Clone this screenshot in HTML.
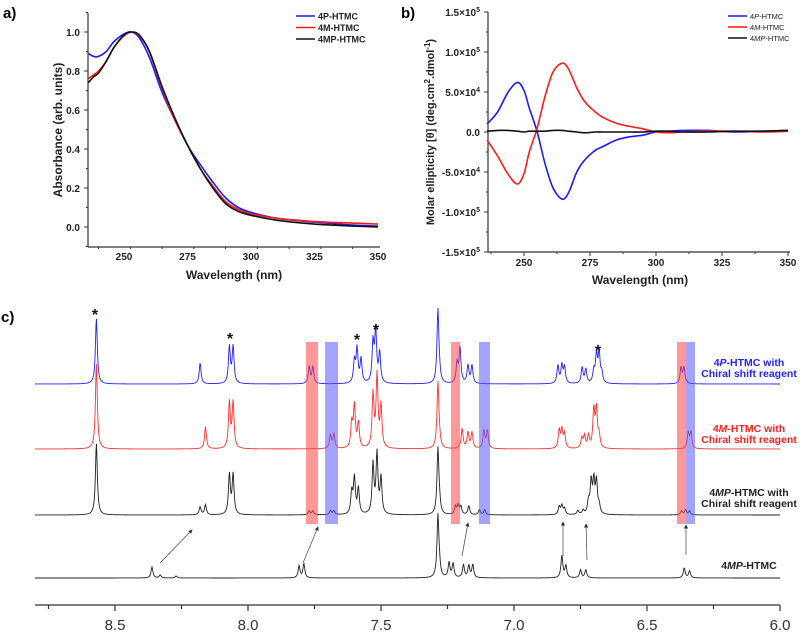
<!DOCTYPE html>
<html><head><meta charset="utf-8"><style>
html,body{margin:0;padding:0;background:#fff;}
svg{display:block;font-family:"Liberation Sans",Arial,sans-serif;}
</style></head><body>
<svg id="fig" width="800" height="633" viewBox="0 0 800 633" xmlns="http://www.w3.org/2000/svg">
<text x="3" y="18" font-size="15" font-weight="bold">a)</text>
<text x="401" y="18" font-size="15" font-weight="bold">b)</text>
<text x="1" y="322" font-size="15" font-weight="bold">c)</text>
<g id="ga"></g>
<g id="gb"></g>
<g id="gc"></g>
</svg>
<script>
// ---------- Panel a data ----------
const uvWl = [236,238,240,243,246,250,253,256,260,265,270,275,280,285,290,295,300,310,325,340,350];
const uvP  = [0.89,0.875,0.875,0.90,0.95,0.99,1.0,0.97,0.87,0.69,0.55,0.42,0.32,0.23,0.15,0.10,0.075,0.045,0.025,0.01,0.005];
const uvM  = [0.76,0.78,0.80,0.85,0.92,0.98,1.0,0.98,0.90,0.71,0.55,0.42,0.30,0.21,0.13,0.09,0.068,0.045,0.028,0.02,0.015];
const uvMP = [0.74,0.77,0.79,0.85,0.92,0.985,1.0,0.985,0.90,0.72,0.56,0.42,0.30,0.20,0.12,0.08,0.06,0.035,0.015,0.005,0.0];
const uvXTicks = [250,275,300,325,350];
const uvYTicks = [0.0,0.2,0.4,0.6,0.8,1.0];
// ---------- Panel b data (units of 1e4) ----------
const cdWl = [236,240,244,247.5,250,252,255,258,261,264.5,267,270,273,277,280,285,290,295,300,305,310,320,330,340,350];
const cdP  = [1.0,2.5,5.0,6.2,5.2,3.0,0,-4,-7,-8.4,-7.5,-5,-3.5,-2.3,-1.8,-1.0,-0.6,-0.4,0,0.1,0.2,0.2,0,0.1,0.2];
const cdM  = [-1.0,-3,-5.3,-6.5,-5.2,-2.5,0.5,4.5,7.5,8.6,7.8,5.5,3.8,2.5,1.8,1.1,0.7,0.4,0,-0.1,0,0.1,0.1,0,0.1];
const cdMP = [0.1,0.2,0.2,0.1,0,0.1,0.1,0.1,0.2,0.2,0.1,0,-0.1,0,0,0,0,0,0.1,0.1,0,0,0.1,0.1,0.2];
const cdXTicks = [250,275,300,325,350];
const cdYTicks = [-15,-10,-5,0,5,10,15];
const cdYLabels = ["-1.5×10","-1.0×10","-5.0×10","0.0","5.0×10","1.0×10","1.5×10"];
const cdYExp = ["5","5","4","","4","5","5"];
// ---------- Panel c data ----------
const nmrBluePpm = [8.57,8.18,8.07,8.056,7.77,7.756,7.60,7.59,7.575,7.53,7.52,7.505,7.286,7.28,7.214,7.203,7.173,7.158,6.835,6.82,6.81,6.744,6.73,6.70,6.69,6.68,6.67,6.372,6.361];
const nmrBlueInt = [66,21,37,37,17,17,22,34,24,40,51,30,74,6,20,35,18,18,18,18,16,16,14,12,28,30,10,16,16];
const nmrRedPpm = [8.57,8.16,8.07,8.056,7.69,7.677,7.61,7.60,7.585,7.53,7.515,7.50,7.286,7.28,7.195,7.173,7.158,7.113,7.10,6.83,6.82,6.81,6.745,6.735,6.72,6.70,6.69,6.68,6.345,6.335];
const nmrRedInt = [86,22,46,46,14,14,25,42,25,54,72,42,66,6,20,16,16,18,18,18,18,14,10,12,12,38,38,12,16,16];
const nmrBlk1Ppm = [8.57,8.18,8.16,8.07,8.056,7.77,7.756,7.69,7.677,7.61,7.60,7.585,7.53,7.515,7.50,7.286,7.28,7.22,7.21,7.20,7.17,7.13,7.11,6.83,6.82,6.81,6.76,6.74,6.72,6.71,6.70,6.69,6.68,6.37,6.355,6.34];
const nmrBlk1Int = [72,8,10,40,40,4,4,4,4,22,36,26,50,60,36,66,8,8,9,8,9,5,5,8,9,6,4,4,12,32,32,32,8,4,5,4];
const nmrBlk2Ppm = [8.361,8.33,8.27,7.808,7.79,7.286,7.28,7.244,7.229,7.19,7.17,7.155,6.82,6.805,6.75,6.73,6.36,6.34];
const nmrBlk2Int = [11,3,2,12,14,62,8,15,14,13,12,13,22,12,8,8,10,7];
const nmrXTicks = [8.5,8.0,7.5,7.0,6.5,6.0];

const NS="http://www.w3.org/2000/svg";
function mk(parent,tag,attrs,text){const e=document.createElementNS(NS,tag);for(const k in attrs)e.setAttribute(k,attrs[k]);if(text!==undefined)e.textContent=text;parent.appendChild(e);return e;}
function smoothPath(pts){let d="M"+pts[0][0].toFixed(2)+","+pts[0][1].toFixed(2);
 for(let i=0;i<pts.length-1;i++){const p0=pts[Math.max(0,i-1)],p1=pts[i],p2=pts[i+1],p3=pts[Math.min(pts.length-1,i+2)];
  const c1=[p1[0]+(p2[0]-p0[0])/6,p1[1]+(p2[1]-p0[1])/6],c2=[p2[0]-(p3[0]-p1[0])/6,p2[1]-(p3[1]-p1[1])/6];
  d+="C"+c1[0].toFixed(2)+","+c1[1].toFixed(2)+" "+c2[0].toFixed(2)+","+c2[1].toFixed(2)+" "+p2[0].toFixed(2)+","+p2[1].toFixed(2);}
 return d;}

// ---------- Panel a ----------
(function(){
const g=document.getElementById('ga');
const x0=88,x1=380,yT=13,yB=247;
const xs=v=>124+(v-250)*2.54, ys=v=>227-v*195;
let e=mk(g,'line',{x1:x0,y1:yT,x2:x0,y2:yB,stroke:'#333','stroke-width':1.2});

e=mk(g,'line',{x1:x0,y1:yB,x2:x1,y2:yB,stroke:'#333','stroke-width':1.2});

for(let v=0;v<=1.1;v+=0.1){const y=ys(v);mk(g,'line',{x1:x0-(Math.round(v*10)%2?2:4),y1:y,x2:x0,y2:y,stroke:'#333'});}
mk(g,'line',{x1:x0-2,y1:ys(-0.1),x2:x0,y2:ys(-0.1),stroke:'#333'});
uvYTicks.forEach(v=>{e=mk(g,'text',{x:x0-8,y:ys(v)+4,'font-size':10,'font-weight':'bold','text-anchor':'end',fill:'#222'},v.toFixed(1));
 });
for(let v=240;v<=350;v+=12.5){const x=xs(v);mk(g,'line',{x1:x,y1:yB,x2:x,y2:yB+(v%25===0?4:2),stroke:'#333'});}
uvXTicks.forEach(v=>{e=mk(g,'text',{x:xs(v),y:yB+13,'font-size':10,'font-weight':'bold','text-anchor':'middle',fill:'#222'},v);
 });
e=mk(g,'text',{x:234,y:279,'font-size':12,'font-weight':'bold','text-anchor':'middle',fill:'#222'},'Wavelength (nm)');

e=mk(g,'text',{x:0,y:0,'font-size':12,'font-weight':'bold','text-anchor':'middle',fill:'#222',transform:'translate(62,130) rotate(-90)'},'Absorbance (arb. units)');

const series=[[uvP,'#1a1aff','4P-HTMC'],[uvM,'#ff1a1a','4M-HTMC'],[uvMP,'#111','4MP-HTMC']];
series.forEach((s,i)=>{e=mk(g,'path',{d:smoothPath(uvWl.map((w,j)=>[xs(w),ys(s[0][j])])),fill:'none',stroke:s[1],'stroke-width':1.6});
 
 const ly=16+i*11.5;mk(g,'line',{x1:296,y1:ly,x2:315,y2:ly,stroke:s[1],'stroke-width':1.6});
 e=mk(g,'text',{x:318,y:ly+3.5,'font-size':9,'font-weight':'bold',fill:'#222'},s[2]);
 });
})();

// ---------- Panel b ----------
(function(){
const g=document.getElementById('gb');
const x0=488,x1=790,yT=12,yB=252;
const xs=v=>524+(v-250)*2.64, ys=v=>132-v*8;
let e=mk(g,'line',{x1:x0,y1:yT,x2:x0,y2:yB,stroke:'#333','stroke-width':1.2});

e=mk(g,'line',{x1:x0,y1:yB,x2:x1,y2:yB,stroke:'#333','stroke-width':1.2});

for(let v=-15;v<=15;v+=2.5){const y=ys(v);mk(g,'line',{x1:x0-(v%5===0?4:2),y1:y,x2:x0,y2:y,stroke:'#333'});}
cdYTicks.forEach((v,i)=>{e=mk(g,'text',{x:x0-8,y:ys(v)+4,'font-size':10,'font-weight':'bold','text-anchor':'end',fill:'#222'});
 
 mk(e,'tspan',{},cdYLabels[i]);if(cdYExp[i])mk(e,'tspan',{dy:-4,'font-size':7},cdYExp[i]);});
for(let v=237.5;v<=350;v+=12.5){const x=xs(v);mk(g,'line',{x1:x,y1:yB,x2:x,y2:yB+(v%25===0?4:2),stroke:'#333'});}
cdXTicks.forEach(v=>{e=mk(g,'text',{x:xs(v),y:yB+14,'font-size':10,'font-weight':'bold','text-anchor':'middle',fill:'#222'},v);
 });
e=mk(g,'text',{x:640,y:284,'font-size':12,'font-weight':'bold','text-anchor':'middle',fill:'#222'},'Wavelength (nm)');

e=mk(g,'text',{x:0,y:0,'font-size':11,'font-weight':'bold','text-anchor':'middle',fill:'#222',transform:'translate(434,132) rotate(-90)'});

mk(e,'tspan',{},'Molar ellipticity [θ] (deg.cm');mk(e,'tspan',{dy:-4,'font-size':8},'2');mk(e,'tspan',{dy:4},'.dmol');mk(e,'tspan',{dy:-4,'font-size':8},'-1');mk(e,'tspan',{dy:4},')');
const series=[[cdP,'#1a1aff','P'],[cdM,'#ff1a1a','M'],[cdMP,'#111','MP']];
series.forEach((s,i)=>{e=mk(g,'path',{d:smoothPath(cdWl.map((w,j)=>[xs(w),ys(s[0][j])])),fill:'none',stroke:s[1],'stroke-width':1.6});
 
 const ly=16+i*11;mk(g,'line',{x1:728,y1:ly,x2:747,y2:ly,stroke:s[1],'stroke-width':1.6});
 e=mk(g,'text',{x:750,y:ly+3,'font-size':7.5,fill:'#222'});
 
 mk(e,'tspan',{},'4');mk(e,'tspan',{'font-style':'italic'},s[2]);mk(e,'tspan',{},'-HTMC');});
})();

// ---------- Panel c ----------
(function(){
const g=document.getElementById('gc');
const xs=v=>115+(8.5-v)*266;
const gam=0.0042;
const bands=[[306,318,'r'],[325,338,'b'],[451,460,'r'],[479,490,'b'],[677,686,'r'],[686,695,'b']];
const traces=[[nmrBluePpm,nmrBlueInt,384,'#2222ff','blue-spectrum'],[nmrRedPpm,nmrRedInt,449,'#ff3030','red-spectrum'],[nmrBlk1Ppm,nmrBlk1Int,515,'#222','black-spectrum-with-reagent'],[nmrBlk2Ppm,nmrBlk2Int,578,'#222','black-spectrum']];
traces.forEach(t=>{let d='';for(let px=35;px<=780;px+=0.5){const p=8.5-(px-115)/266;let s=0;for(let k=0;k<t[0].length;k++){const dx=p-t[0][k];s+=t[1][k]*gam*gam/(dx*dx+gam*gam);}
 d+=(px===35?'M':'L')+px+','+(t[2]-s).toFixed(2);}
 const e=mk(g,'path',{d:d,fill:'none',stroke:t[3],'stroke-width':0.9});
 });
bands.forEach(b=>{const e=mk(g,'rect',{x:b[0],y:342,width:b[1]-b[0],height:182,fill:b[2]==='r'?'rgba(255,70,70,0.55)':'rgba(90,90,255,0.55)'});
 });
const defs=mk(g,'defs',{});const mkr=mk(defs,'marker',{id:'ah',markerWidth:6,markerHeight:6,refX:5,refY:3,orient:'auto'});mk(mkr,'path',{d:'M0,0L6,3L0,6z',fill:'#333'});
[[160,563,192,530],[303,563,318,527],[462,556,468,523],[563,556,563,522],[587,560,586,524],[686,555,686,525]].forEach(a=>{
 const e=mk(g,'line',{x1:a[0],y1:a[1],x2:a[2],y2:a[3],stroke:'#444','stroke-width':0.7,'marker-end':'url(#ah)'});
 });
[[95,320],[230,344],[357,345],[376,335],[598,356]].forEach(s=>{const e=mk(g,'text',{x:s[0],y:s[1],'font-size':16,'font-weight':'bold','text-anchor':'middle',fill:'#111'},'*');
 });
let e=mk(g,'line',{x1:35,y1:605,x2:780,y2:605,stroke:'#333','stroke-width':1.3});

for(let v=8.75;v>=5.99;v-=0.25){const x=xs(v);const maj=Math.abs(v*2-Math.round(v*2))<0.01;mk(g,'line',{x1:x,y1:605,x2:x,y2:605+(maj?6:4),stroke:'#333','stroke-width':1.2});}
nmrXTicks.forEach(v=>{e=mk(g,'text',{x:xs(v),y:630,'font-size':15,'text-anchor':'middle',fill:'#333'},v.toFixed(1));
 });
function lab(y,color,pre,it,name,second){const t=mk(g,'text',{x:749,y:y,'font-size':10.5,'font-weight':'bold','text-anchor':'middle',fill:color});
 
 mk(t,'tspan',{},'4');mk(t,'tspan',{'font-style':'italic'},it);mk(t,'tspan',{},pre);
 if(second){const t2=mk(g,'text',{x:749,y:y+11,'font-size':10.5,'font-weight':'bold','text-anchor':'middle',fill:color},second);
  }}
lab(366,'#2222ff','-HTMC with','P','blue-trace-label','Chiral shift reagent');
lab(432,'#ff2020','-HTMC with','M','red-trace-label','Chiral shift reagent');
lab(496,'#222','-HTMC with','MP','black-reagent-trace-label','Chiral shift reagent');
lab(569,'#222','-HTMC','MP','black-trace-label',null);
})();
</script>
</body></html>
